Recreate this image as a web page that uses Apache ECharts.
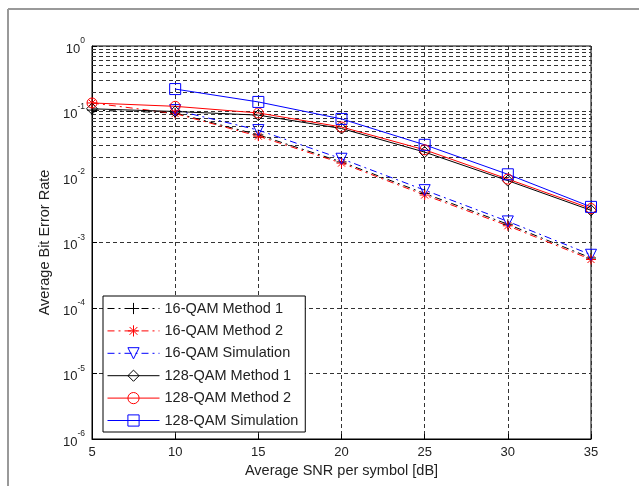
<!DOCTYPE html>
<html>
<head>
<meta charset="utf-8">
<script src="https://cdn.jsdelivr.net/npm/echarts@6/dist/echarts.min.js"></script>
<style>html,body{margin:0;padding:0;background:#fff;}#c{width:639px;height:486px;}</style>
</head>
<body>
<div id="c"></div>
<script>
var snr = [5, 10, 15, 20, 25, 30, 35];
var qam16Method1 = [0.105, 0.095, 0.044, 0.017, 0.0056, 0.0019, 0.00058];
var qam16Method2 = [0.135, 0.093, 0.042, 0.0163, 0.0053, 0.0018, 0.00055];
var qam16Sim = [null, 0.105, 0.052, 0.019, 0.0063, 0.0021, 0.00065];
var qam128Method1 = [0.11, 0.1, 0.088, 0.055, 0.024, 0.0088, 0.0031];
var qam128Method2 = [0.135, 0.12, 0.095, 0.058, 0.026, 0.0093, 0.0033];
var qam128Sim = [null, 0.22, 0.14, 0.077, 0.031, 0.011, 0.0035];
var seriesNames = ['16-QAM Method 1', '16-QAM Method 2', '16-QAM Simulation', '128-QAM Method 1', '128-QAM Method 2', '128-QAM Simulation'];
var xTicks = [5, 10, 15, 20, 25, 30, 35];
var yExponents = [-6, -5, -4, -3, -2, -1, 0];

function pairs(ys) {
  var out = [];
  for (var i = 0; i < snr.length; i++) if (ys[i] != null) out.push([snr[i], ys[i]]);
  return out;
}
var minorVals = [];
for (var e = -6; e < 0; e++) for (var k = 2; k <= 9; k++) minorVals.push(k * Math.pow(10, e));

var SYM = {
  plus: 'path://M5,0L5,10M0,5L10,5',
  star: 'path://M5,0L5,10M0,5L10,5M1.5,1.5L8.5,8.5M8.5,1.5L1.5,8.5',
  tri: 'path://M0,0L10,0L5,9Z',
  diamond: 'path://M5,0L10,5L5,10L0,5Z',
  square: 'path://M0,0L10,0L10,10L0,10Z',
  circle: 'path://M10,5A5,5,0,1,1,0,5A5,5,0,1,1,10,5Z'
};
var dashDot = [7, 4, 2, 4];
function mk(name, data, color, dash, symbol, size) {
  return {
    name: name, type: 'line', data: pairs(data), clip: false,
    symbol: symbol, symbolSize: size, showAllSymbol: true,
    lineStyle: {color: color, width: 1, type: dash ? dashDot : 'solid'},
    itemStyle: {color: 'rgba(255,255,255,0)', borderColor: color, borderWidth: 1},
    emphasis: {disabled: true}, animation: false, z: 5
  };
}
var series = [
  mk(seriesNames[0], qam16Method1, '#000', true, SYM.plus, 10),
  mk(seriesNames[1], qam16Method2, '#ff0000', true, SYM.star, 10),
  mk(seriesNames[2], qam16Sim, '#0000ff', true, SYM.tri, 11),
  mk(seriesNames[3], qam128Method1, '#000', false, SYM.diamond, 11),
  mk(seriesNames[4], qam128Method2, '#ff0000', false, SYM.circle, 10),
  mk(seriesNames[5], qam128Sim, '#0000ff', false, SYM.square, 11)
];
series.push({
  type: 'line', data: [], silent: true, animation: false, z: 1,
  markLine: {
    silent: true, symbol: ['none', 'none'], label: {show: false}, animation: false,
    lineStyle: {color: '#333', width: 1, type: [4, 3]},
    data: minorVals.map(function (v) { return {yAxis: v}; })
  }
});

var chart = echarts.init(document.getElementById('c'));
chart.setOption({
  backgroundColor: '#fff',
  animation: false,
  grid: {left: 92, right: 48, top: 46, bottom: 47, show: true, borderColor: '#000', borderWidth: 1, backgroundColor: 'transparent'},
  xAxis: {
    type: 'value', min: 5, max: 35, interval: 5,
    name: 'Average SNR per symbol [dB]', nameLocation: 'middle', nameGap: 21,
    nameTextStyle: {fontFamily: 'Liberation Sans', fontSize: 14.5, color: '#222'},
    axisLine: {lineStyle: {color: '#000'}},
    axisTick: {inside: true, length: 5, lineStyle: {color: '#000'}},
    axisLabel: {fontFamily: 'Liberation Sans', fontSize: 13, color: '#222', margin: 7,
      formatter: function (v) { return xTicks.indexOf(v) >= 0 ? String(v) : ''; }},
    splitLine: {show: true, lineStyle: {color: '#333', type: [4, 3]}}
  },
  yAxis: {
    type: 'log', logBase: 10, min: 1e-6, max: 1,
    name: 'Average Bit Error Rate', nameLocation: 'middle', nameGap: 39,
    nameTextStyle: {fontFamily: 'Liberation Sans', fontSize: 14.5, color: '#222'},
    axisLine: {lineStyle: {color: '#000'}},
    axisTick: {inside: true, length: 5, lineStyle: {color: '#000'}},
    axisLabel: {
      margin: 7, color: '#222',
      formatter: function (v) {
        var ex = Math.round(Math.log10(v));
        return yExponents.indexOf(ex) >= 0 ? '{b|10}{s|' + ex + '}' : '';
      },
      rich: {
        b: {fontFamily: 'Liberation Sans', fontSize: 13, color: '#222', verticalAlign: 'bottom'},
        s: {fontFamily: 'Liberation Sans', fontSize: 8.5, color: '#222', verticalAlign: 'bottom', padding: [0, 0, 10, 0]}
      }
    },
    splitLine: {show: true, lineStyle: {color: '#333', type: [4, 3]}}
  },
  legend: {
    data: seriesNames,
    orient: 'vertical', left: 103, top: 296,
    padding: [5, 7, 4, 4], itemGap: 7.4, itemWidth: 52, itemHeight: 14,
    backgroundColor: '#fff', borderColor: '#000', borderWidth: 1, borderRadius: 0,
    selectedMode: false,
    lineStyle: {width: 1},
    itemStyle: {borderWidth: 1},
    textStyle: {fontFamily: 'Liberation Sans', fontSize: 14.5, color: '#222', padding: [0, 0, 0, 0]}
  },
  graphic: [
    {type: 'line', shape: {x1: 8, y1: 9, x2: 639, y2: 9}, style: {stroke: '#999', lineWidth: 2}, silent: true},
    {type: 'line', shape: {x1: 8, y1: 9, x2: 8, y2: 486}, style: {stroke: '#999', lineWidth: 2}, silent: true}
  ],
  series: series
});
</script>
</body>
</html>
